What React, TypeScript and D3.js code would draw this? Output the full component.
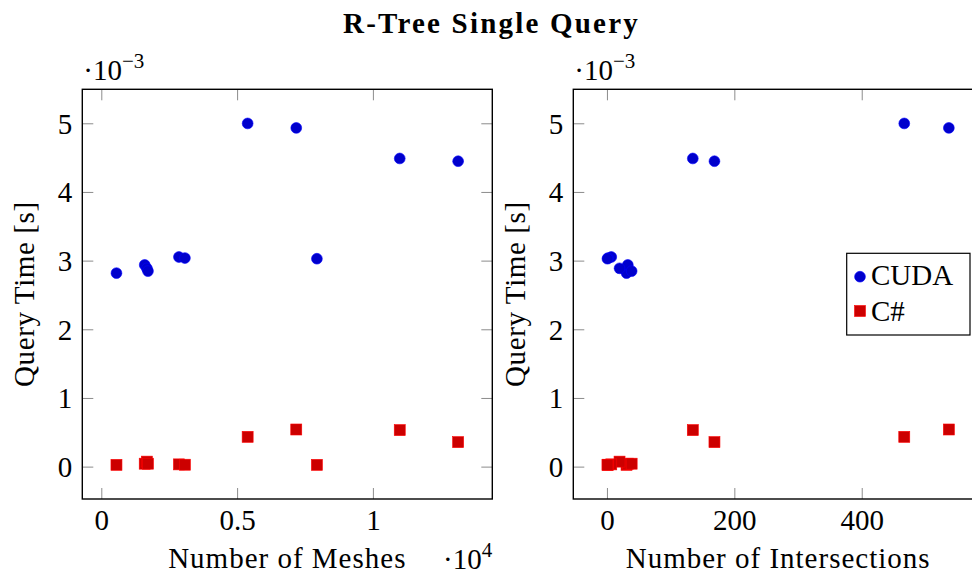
import React from "react";
import * as d3 from "d3";

// Data (time values in units of 1e-3 s, meshes in raw counts)
const meshes = [540, 1580, 1660, 1700, 2840, 3060, 7920, 5370, 7160, 10970, 13120];
const intersections = [30, 32, 19, 38, 6, 1, 0, 466, 536, 134, 168];
const cudaTime = [2.825, 2.945, 2.895, 2.855, 3.06, 3.045, 3.035, 5.005, 4.94, 4.495, 4.455];
const csharpTime = [0.033, 0.05, 0.08, 0.05, 0.04, 0.035, 0.033, 0.441, 0.548, 0.539, 0.364];

const yTicks = [0, 1, 2, 3, 4, 5];
const xTicksMeshes = [0, 0.5, 1];
const xTicksInter = [0, 200, 400];

const seriesNames = ["CUDA", "C#"];

const W = 972;
const H = 574;
const FONT = "'Liberation Serif', 'Times New Roman', serif";
const FS = 29;

const enlarge = (vals: number[]): [number, number] => {
  const [a, b] = d3.extent(vals) as [number, number];
  const r = b - a;
  return [a - 0.1 * r, b + 0.1 * r];
};

const top = 89.3;
const bottom = 499;

type PanelProps = {
  left: number;
  right: number;
  xs: number[];
  xTicks: number[];
  xFmt: (v: number) => string;
  xLabel: string;
  xScaleLabel: boolean;
  legend: boolean;
};

const yDomain = enlarge([...cudaTime, ...csharpTime]);

function Panel({ left, right, xs, xTicks, xFmt, xLabel, xScaleLabel, legend }: PanelProps) {
  const x = d3.scaleLinear().domain(enlarge(xs)).range([left, right]);
  const y = d3.scaleLinear().domain(yDomain).range([bottom, top]);
  const tickLen = 11;
  const tickColor = "#8c8c8c";
  const sq = 11;
  return (
    <g>
      {yTicks.map((t) => (
        <g key={"y" + t}>
          <line x1={left} x2={left + tickLen} y1={y(t)} y2={y(t)} stroke={tickColor} strokeWidth={1} />
          <line x1={right} x2={right - tickLen} y1={y(t)} y2={y(t)} stroke={tickColor} strokeWidth={1} />
          <text x={left - 10} y={y(t) + 10} textAnchor="end" fontSize={FS} fontFamily={FONT}>
            {String(t)}
          </text>
        </g>
      ))}
      {xTicks.map((t) => (
        <g key={"x" + t}>
          <line x1={x(t)} x2={x(t)} y1={bottom} y2={bottom - tickLen} stroke={tickColor} strokeWidth={1} />
          <line x1={x(t)} x2={x(t)} y1={top} y2={top + tickLen} stroke={tickColor} strokeWidth={1} />
          <text x={x(t)} y={530} textAnchor="middle" fontSize={FS} fontFamily={FONT}>
            {xFmt(t)}
          </text>
        </g>
      ))}
      <rect x={left} y={top} width={right - left} height={bottom - top} fill="none" stroke="#000" strokeWidth={1.4} />
      {xs.map((v, i) => (
        <circle key={"c" + i} cx={x(v)} cy={y(cudaTime[i])} r={5.4} fill="#0000cc" stroke="#0000ff" strokeWidth={0.6} />
      ))}
      {xs.map((v, i) => (
        <rect
          key={"s" + i}
          x={x(v) - sq / 2}
          y={y(csharpTime[i]) - sq / 2}
          width={sq}
          height={sq}
          fill="#cc0000"
          stroke="#ff0000"
          strokeWidth={0.6}
        />
      ))}
      <text x={left + 1} y={80} fontSize={FS} fontFamily={FONT}>
        ·10
        <tspan fontSize={21} dy={-12}>−3</tspan>
      </text>
      <text
        transform={`translate(${left - 48},${(top + bottom) / 2}) rotate(-90)`}
        textAnchor="middle"
        fontSize={FS}
        fontFamily={FONT}
        letterSpacing={0.6}
      >
        Query Time [s]
      </text>
      <text x={(left + right) / 2} y={568} textAnchor="middle" fontSize={FS} fontFamily={FONT} letterSpacing={1}>
        {xLabel}
      </text>
      {xScaleLabel && (
        <text x={443} y={569} fontSize={FS} fontFamily={FONT}>
          ·10
          <tspan fontSize={21} dy={-12}>4</tspan>
        </text>
      )}
      {legend && (
        <g>
          <rect x={846.7} y={253.3} width={123.3} height={81.7} fill="#fff" stroke="#000" strokeWidth={1.2} />
          <circle cx={860} cy={276.7} r={5.4} fill="#0000cc" stroke="#0000ff" strokeWidth={0.6} />
          <text x={871} y={285} fontSize={FS} fontFamily={FONT}>
            {seriesNames[0]}
          </text>
          <rect x={860 - sq / 2} y={311 - sq / 2} width={sq} height={sq} fill="#cc0000" stroke="#ff0000" strokeWidth={0.6} />
          <text x={871} y={321} fontSize={FS} fontFamily={FONT}>
            {seriesNames[1]}
          </text>
        </g>
      )}
    </g>
  );
}

export default function App() {
  const meshes1e4 = meshes.map((m) => m / 1e4);
  return (
    <svg
      width={W}
      height={H}
      viewBox={`0 0 ${W} ${H}`}
      style={{ position: "absolute", left: 0, top: 0, background: "#fff" }}
    >
      <rect x={0} y={0} width={W} height={H} fill="#fff" />
      <text x={491.5} y={33} textAnchor="middle" fontSize={29} fontWeight="bold" fontFamily={FONT} letterSpacing={2.2}>
        R-Tree Single Query
      </text>
      <Panel
        left={82.3}
        right={492.3}
        xs={meshes1e4}
        xTicks={xTicksMeshes}
        xFmt={(v) => String(v)}
        xLabel="Number of Meshes"
        xScaleLabel={true}
        legend={false}
      />
      <Panel
        left={573.3}
        right={983}
        xs={intersections}
        xTicks={xTicksInter}
        xFmt={(v) => String(v)}
        xLabel="Number of Intersections"
        xScaleLabel={false}
        legend={true}
      />
    </svg>
  );
}
